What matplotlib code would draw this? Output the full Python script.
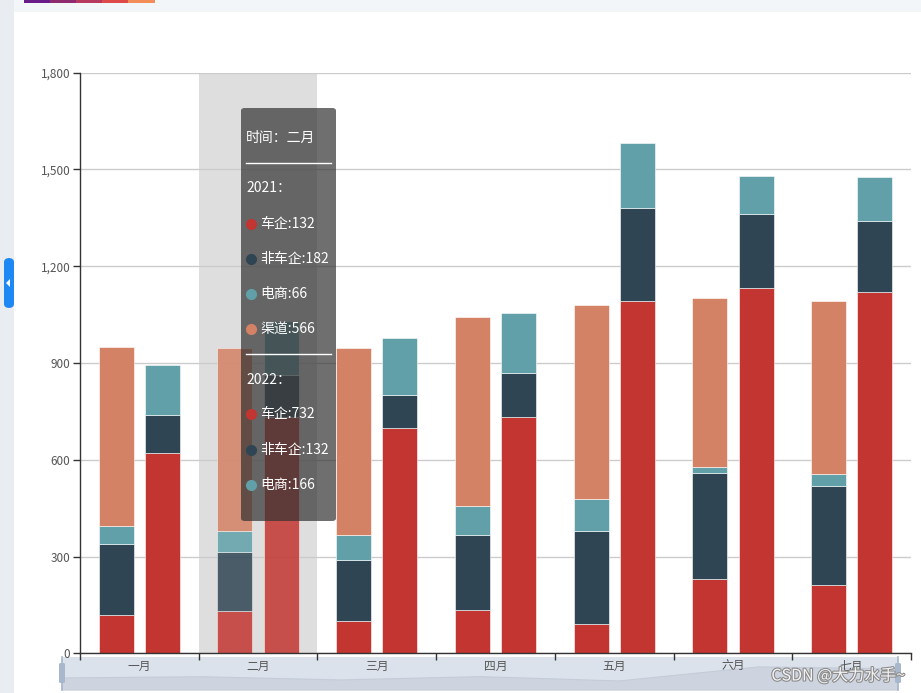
import matplotlib
matplotlib.use("Agg")

import matplotlib.pyplot as plt
import matplotlib.patheffects as pe
import numpy as np
from matplotlib.lines import Line2D
from matplotlib.patches import FancyBboxPatch, Rectangle, Polygon
from matplotlib.ticker import FixedLocator, FuncFormatter

plt.rcParams["font.family"] = ["Noto Sans CJK SC", "DejaVu Sans"]

W, H = 921, 693

months = ["一月", "二月", "三月", "四月", "五月", "六月", "七月"]
series_names = ["车企", "非车企", "电商", "渠道"]

car_2021 = [120, 132, 100, 133, 90, 230, 211]
noncar_2021 = [220, 182, 190, 235, 290, 330, 309]
ecom_2021 = [55, 66, 78, 88, 98, 19, 36]
channel_2021 = [556, 566, 577, 588, 601, 521, 537]

car_2022 = [620, 732, 700, 734, 1091, 1131, 1120]
noncar_2022 = [120, 132, 102, 134, 289, 230, 221]
ecom_2022 = [155, 166, 176, 188, 201, 120, 136]

colors = ["#c23531", "#2f4554", "#61a0a8", "#d48265"]
y_ticks = [0, 300, 600, 900, 1200, 1500, 1800]
hover_idx = 1  # tooltip on 二月


def fx(px):
    return px / W


def fy(py):
    return 1 - py / H


def fig_rect(fig, x0, y0, x1, y1, color, z=0.1, **kw):
    r = Rectangle((fx(x0), fy(y1)), (x1 - x0) / W, (y1 - y0) / H,
                  transform=fig.transFigure, facecolor=color, edgecolor="none",
                  zorder=z, **kw)
    fig.add_artist(r)
    return r


def draw_page(fig):
    # page chrome around the chart
    fig_rect(fig, 0, 0, 14, H, "#e9edf2")
    fig_rect(fig, 14, 0, W, 12, "#f3f6f9")
    grad = ["#6a1b8a", "#8e2a6e", "#b8395f", "#de4a4a", "#f28d5a"]
    seg = (154 - 24) / len(grad)
    for i, c in enumerate(grad):
        fig_rect(fig, 24 + i * seg, 0, 24 + (i + 1) * seg + 0.5, 3, c)
    tab = FancyBboxPatch((fx(4), fy(308)), 10 / W, 50 / H,
                         boxstyle="round,pad=0,rounding_size=0.006",
                         transform=fig.transFigure, facecolor="#1e88f5",
                         edgecolor="none", zorder=0.2)
    fig.add_artist(tab)
    tri = Polygon([[fx(6), fy(283)], [fx(10), fy(279)], [fx(10), fy(287)]],
                  closed=True, transform=fig.transFigure, facecolor="white",
                  edgecolor="none", zorder=0.3)
    fig.add_artist(tri)


def draw_bars(ax):
    x = np.arange(len(months))
    width = 0.295
    off = 0.195
    stacks = [
        (-off, [car_2021, noncar_2021, ecom_2021, channel_2021]),
        (off, [car_2022, noncar_2022, ecom_2022]),
    ]
    ax.axvspan(hover_idx - 0.5, hover_idx + 0.5, color="#dedede", zorder=0.3, lw=0)
    for shift, layers in stacks:
        bottom = np.zeros(len(months))
        for k, vals in enumerate(layers):
            vals = np.array(vals, dtype=float)
            for i in range(len(months)):
                alpha = 0.85 if i == hover_idx else 1.0
                ax.bar(x[i] + shift, vals[i], width, bottom=bottom[i],
                       color=colors[k], alpha=alpha, edgecolor="#ffffff",
                       linewidth=0.4, zorder=2)
            bottom += vals


def style_axes(ax):
    ax.set_xlim(-0.5, len(months) - 0.5)
    ax.set_ylim(0, 1800)
    ax.set_facecolor("none")
    for s in ["top", "right"]:
        ax.spines[s].set_visible(False)
    for s in ["left", "bottom"]:
        ax.spines[s].set_color("#333333")
        ax.spines[s].set_linewidth(1)
        ax.spines[s].set_zorder(3)
    ax.yaxis.set_major_locator(FixedLocator(y_ticks))
    ax.yaxis.set_major_formatter(FuncFormatter(lambda v, p: f"{int(v):,}"))
    ax.tick_params(axis="y", length=5, width=1, color="#333333",
                   labelcolor="#555555", labelsize=8.5, pad=2)
    ax.set_axisbelow(True)
    ax.grid(axis="y", color="#cccccc", linewidth=1)

    ax.set_xticks(np.arange(len(months) + 1) - 0.5)
    ax.set_xticklabels([])
    ax.set_xticks(np.arange(len(months)), minor=True)
    ax.set_xticklabels(months, minor=True)
    ax.tick_params(axis="x", which="major", length=5, width=1, color="#333333")
    ax.tick_params(axis="x", which="minor", length=0, pad=5,
                   labelcolor="#555555", labelsize=8.5)


def draw_slider(fig):
    x0, x1, y0, y1 = 62, 898, 657, 690
    fig_rect(fig, x0, y0, x1, y1, "#dce2eb", z=0.4)
    # data shadow from the first series
    vals = np.array(car_2021, dtype=float)
    xs = np.linspace(x0, x1, len(vals))
    ys = y1 - vals / vals.max() * 0.7 * (y1 - y0)
    pts = [[fx(x0), fy(y1)]] + [[fx(a), fy(b)] for a, b in zip(xs, ys)] + [[fx(x1), fy(y1)]]
    fig.add_artist(Polygon(pts, closed=True, transform=fig.transFigure,
                           facecolor="#cdd4df", edgecolor="#c3ccd8", lw=0.8, zorder=0.45))
    for hx in (x0, x1):
        h = FancyBboxPatch((fx(hx - 3), fy(683)), 6 / W, 20 / H,
                           boxstyle="round,pad=0,rounding_size=0.002",
                           transform=fig.transFigure, facecolor="#a7b7cc",
                           edgecolor="none", zorder=0.5)
        fig.add_artist(h)
        fig.add_artist(Line2D([fx(hx), fx(hx)], [fy(y0), fy(y1)], color="#a7b7cc",
                              lw=1.2, transform=fig.transFigure, zorder=0.5))


def draw_tooltip(fig):
    i = hover_idx
    box = FancyBboxPatch((fx(241), fy(521)), 95 / W, 413 / H,
                         boxstyle="round,pad=0,rounding_size=0.004",
                         transform=fig.transFigure, facecolor=(50 / 255, 50 / 255, 50 / 255, 0.7),
                         edgecolor="none", zorder=6)
    fig.add_artist(box)
    kw = dict(color="white", fontsize=10, va="center", ha="left", zorder=7)
    fig.text(fx(246), fy(138), f"时间：{months[i]}", **kw)
    fig.add_artist(Line2D([fx(246), fx(331)], [fy(163), fy(163)], color="white",
                          lw=1, transform=fig.transFigure, zorder=7))
    fig.text(fx(246), fy(188), "2021：", **kw)
    rows_2021 = [car_2021, noncar_2021, ecom_2021, channel_2021]
    for k, py in enumerate([224, 259, 294, 329]):
        fig.add_artist(Line2D([fx(251)], [fy(py)], marker="o", markersize=7,
                              color=colors[k], lw=0, transform=fig.transFigure, zorder=7))
        fig.text(fx(260), fy(py), f"{series_names[k]}:{rows_2021[k][i]}", **kw)
    fig.add_artist(Line2D([fx(246), fx(331)], [fy(354), fy(354)], color="white",
                          lw=1, transform=fig.transFigure, zorder=7))
    fig.text(fx(246), fy(380), "2022：", **kw)
    rows_2022 = [car_2022, noncar_2022, ecom_2022]
    for k, py in enumerate([414, 450, 485]):
        fig.add_artist(Line2D([fx(251)], [fy(py)], marker="o", markersize=7,
                              color=colors[k], lw=0, transform=fig.transFigure, zorder=7))
        fig.text(fx(260), fy(py), f"{series_names[k]}:{rows_2022[k][i]}", **kw)


def main():
    fig = plt.figure(figsize=(W / 100, H / 100), dpi=100, facecolor="white")
    draw_page(fig)
    ax = fig.add_axes([fx(80), fy(653.3), (911 - 80) / W, (653.3 - 72.7) / H])
    ax.set_zorder(1)
    draw_bars(ax)
    style_axes(ax)
    draw_slider(fig)
    draw_tooltip(fig)
    fig.text(fx(905), fy(676), "CSDN @大力水手~", ha="right", va="center",
             fontsize=11.5, color="#f4f4f4", zorder=8,
             path_effects=[pe.withStroke(linewidth=1.6, foreground="#8c8c8c")])
    fig.savefig("out.png", dpi=100)
    plt.close(fig)


if __name__ == "__main__":
    main()
